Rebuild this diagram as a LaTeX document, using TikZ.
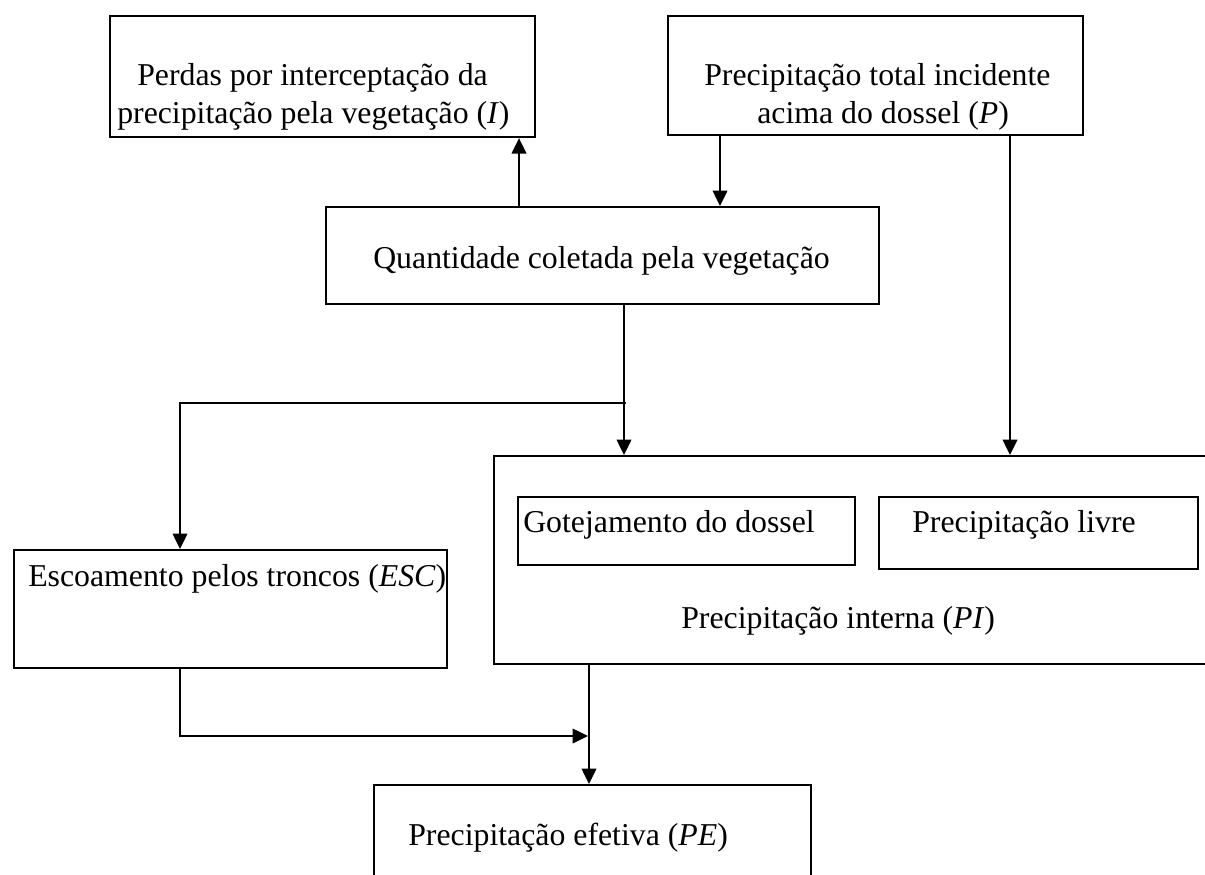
\documentclass[tikz,border=0pt]{standalone}
\usepackage{fontspec}
\setmainfont{Liberation Serif}
\usetikzlibrary{arrows.meta}
\begin{document}
\begin{tikzpicture}[x=0.75pt,y=-0.75pt,
  box/.style={draw, line width=1.65pt, inner sep=0pt, anchor=north west},
  txt/.style={anchor=base west, inner sep=0pt, font=\fontsize{23.85pt}{28pt}\selectfont},
  arr/.style={line width=1.05pt, -{Triangle[length=11.5pt,width=11pt]}},
  ln/.style={line width=1.05pt}]
\useasboundingbox (0,0) rectangle (1205,874);
\fill[white] (0,0) rectangle (1205,874);
\clip (0,0) rectangle (1205,874);
% boxes
\node[box, minimum width=425*0.75pt, minimum height=121*0.75pt] (I) at (109,15) {};
\node[box, minimum width=415*0.75pt, minimum height=119*0.75pt] (P) at (667,15) {};
\node[box, minimum width=553*0.75pt, minimum height=97*0.75pt] (Q) at (325,206) {};
\node[box, minimum width=433*0.75pt, minimum height=118*0.75pt] (ESC) at (13,549) {};
\node[box, minimum width=730*0.75pt, minimum height=208*0.75pt] (PI) at (493,455) {};
\node[box, minimum width=337*0.75pt, minimum height=68*0.75pt] (G) at (517,496) {};
\node[box, minimum width=319*0.75pt, minimum height=72*0.75pt] (L) at (878,496) {};
\node[box, minimum width=437*0.75pt, minimum height=130*0.75pt] (PE) at (373,784) {};
% texts
\node[txt] (tIa) at (137,85) {Perdas por interceptação da};
\node[txt] (tIb) at (117,123) {precipitação pela vegetação (\textit{I})};
\node[txt] (tPa) at (704,85) {Precipitação total incidente};
\node[txt] (tPb) at (757,123) {acima do dossel (\textit{P})};
\node[txt] (tQ) at (373,268) {Quantidade coletada pela vegetação};
\node[txt] (tESC) at (28,586) {Escoamento pelos troncos (\textit{ESC})};
\node[txt] (tG) at (523,532) {Gotejamento do dossel};
\node[txt] (tL) at (912,532) {Precipitação livre};
\node[txt] (tPI) at (681,628) {Precipitação interna (\textit{PI})};
\node[txt] (tPE) at (408,845) {Precipitação efetiva (\textit{PE})};
% connector guides
\coordinate (xa) at (519,0);
\coordinate (xb) at (720,0);
\coordinate (xc) at (1010,0);
\coordinate (xd) at (624,0);
\coordinate (xe) at (180,0);
\coordinate (xg) at (589,0);
\coordinate (br) at (626,403);
\coordinate (jn) at (588,736);
% connectors
\draw[arr] (Q.north -| xa) -- (I.south -| xa);
\draw[arr] (P.south -| xb) -- (Q.north -| xb);
\draw[arr] (P.south -| xc) -- (PI.north -| xc);
\draw[arr] (Q.south -| xd) -- (PI.north -| xd);
\draw[arr] (br) -| (ESC.north -| xe);
\draw[arr] (ESC.south -| xe) |- (jn);
\draw[arr] (PI.south -| xg) -- (PE.north -| xg);
\end{tikzpicture}
\end{document}
